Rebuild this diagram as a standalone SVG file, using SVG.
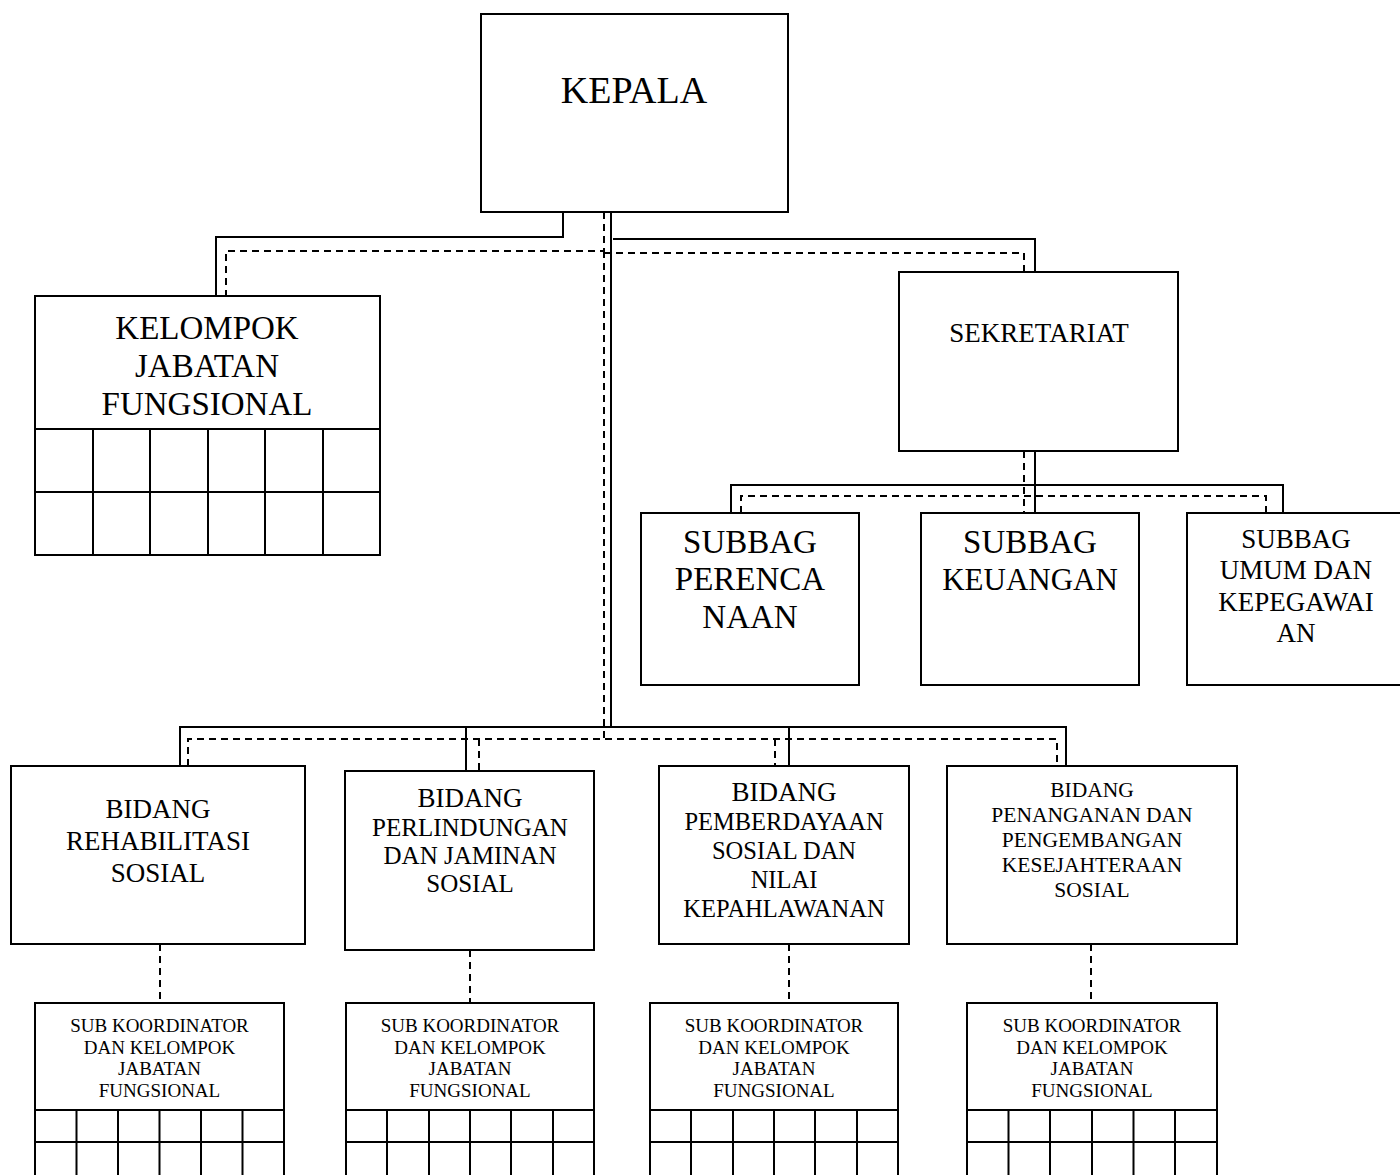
<svg xmlns="http://www.w3.org/2000/svg" width="1400" height="1175" viewBox="0 0 1400 1175">
<style>
.box{fill:#fff;stroke:#000;stroke-width:2}
.ln{fill:none;stroke:#000;stroke-width:2}
.ds{fill:none;stroke:#000;stroke-width:2;stroke-dasharray:7 5}
text{font-family:"Liberation Serif","DejaVu Serif",serif;fill:#000;text-anchor:middle}
</style>
<rect width="1400" height="1175" fill="#fff"/>
<g id="connectors">
<path class="ln" d="M563 212V237H216V296"/>
<path class="ds" d="M604 212V251H226V296"/>
<path class="ln" d="M611 212V727"/>
<path class="ln" d="M613 239H1035V272"/>
<path class="ds" d="M604 253H1024V272"/>
<path class="ds" d="M604 251V739"/>
<path class="ln" d="M1035 451V513"/>
<path class="ds" d="M1024 451V513"/>
<path class="ln" d="M731 513V485H1283V513"/>
<path class="ds" d="M741 513V496H1266V513"/>
<path class="ln" d="M180 766V727H1066V766"/>
<path class="ln" d="M466 727V771"/>
<path class="ln" d="M789 727V766"/>
<path class="ds" d="M188 766V739H1057V766"/>
<path class="ds" d="M479 739V771"/>
<path class="ds" d="M775 739V766"/>
<path class="ds" d="M160 944V1003"/>
<path class="ds" d="M470 950V1003"/>
<path class="ds" d="M789 944V1003"/>
<path class="ds" d="M1091 944V1003"/>
</g>
<g id="kepala"><rect class="box" x="481" y="14" width="307" height="198"/><text x="634" y="103" font-size="38">KEPALA</text></g>
<g id="kjf"><rect class="box" x="35" y="296" width="345" height="259"/>
<path class="ln" d="M35 429H380M35 492H380M93 429V555M150 429V555M208 429V555M265 429V555M323 429V555"/>
<text font-size="33"><tspan x="207" y="339">KELOMPOK</tspan><tspan x="207" y="377">JABATAN</tspan><tspan x="207" y="415">FUNGSIONAL</tspan></text></g>
<g id="sekretariat"><rect class="box" x="899" y="272" width="279" height="179"/><text x="1039" y="342" font-size="27">SEKRETARIAT</text></g>
<g id="subbag-perencanaan"><rect class="box" x="641" y="513" width="218" height="172"/><text font-size="33"><tspan x="750" y="553">SUBBAG</tspan><tspan x="750" y="590">PERENCA</tspan><tspan x="750" y="628">NAAN</tspan></text></g>
<g id="subbag-keuangan"><rect class="box" x="921" y="513" width="218" height="172"/><text font-size="31"><tspan x="1030" y="553" font-size="33">SUBBAG</tspan><tspan x="1030" y="590">KEUANGAN</tspan></text></g>
<g id="subbag-umum"><rect class="box" x="1187" y="513" width="214" height="172"/><text font-size="27"><tspan x="1296" y="548">SUBBAG</tspan><tspan x="1296" y="579">UMUM DAN</tspan><tspan x="1296" y="611">KEPEGAWAI</tspan><tspan x="1296" y="642">AN</tspan></text></g>
<g id="bidang-rehab"><rect class="box" x="11" y="766" width="294" height="178"/><text font-size="27"><tspan x="158" y="818">BIDANG</tspan><tspan x="158" y="850">REHABILITASI</tspan><tspan x="158" y="882">SOSIAL</tspan></text></g>
<g id="bidang-perlindungan"><rect class="box" x="345" y="771" width="249" height="179"/><text font-size="25"><tspan x="470" y="807" font-size="27">BIDANG</tspan><tspan x="470" y="836">PERLINDUNGAN</tspan><tspan x="470" y="864">DAN JAMINAN</tspan><tspan x="470" y="892">SOSIAL</tspan></text></g>
<g id="bidang-pemberdayaan"><rect class="box" x="659" y="766" width="250" height="178"/><text font-size="24.5"><tspan x="784" y="801" font-size="27">BIDANG</tspan><tspan x="784" y="830">PEMBERDAYAAN</tspan><tspan x="784" y="859">SOSIAL DAN</tspan><tspan x="784" y="888">NILAI</tspan><tspan x="784" y="917">KEPAHLAWANAN</tspan></text></g>
<g id="bidang-penanganan"><rect class="box" x="947" y="766" width="290" height="178"/><text font-size="21.5"><tspan x="1092" y="797">BIDANG</tspan><tspan x="1092" y="822">PENANGANAN DAN</tspan><tspan x="1092" y="847">PENGEMBANGAN</tspan><tspan x="1092" y="872">KESEJAHTERAAN</tspan><tspan x="1092" y="897">SOSIAL</tspan></text></g>
<g id="subkoor-1"><rect class="box" x="35" y="1003" width="249" height="180"/>
<path class="ln" d="M35 1110H284M35 1142H284M76.5 1110V1175M118 1110V1175M159.5 1110V1175M201 1110V1175M242.5 1110V1175"/>
<text font-size="19"><tspan x="159.5" y="1032">SUB KOORDINATOR</tspan><tspan x="159.5" y="1054">DAN KELOMPOK</tspan><tspan x="159.5" y="1075">JABATAN</tspan><tspan x="159.5" y="1097">FUNGSIONAL</tspan></text></g>
<g id="subkoor-2"><rect class="box" x="346" y="1003" width="248" height="180"/>
<path class="ln" d="M346 1110H594M346 1142H594M387 1110V1175M429 1110V1175M470 1110V1175M511 1110V1175M553 1110V1175"/>
<text font-size="19"><tspan x="470" y="1032">SUB KOORDINATOR</tspan><tspan x="470" y="1054">DAN KELOMPOK</tspan><tspan x="470" y="1075">JABATAN</tspan><tspan x="470" y="1097">FUNGSIONAL</tspan></text></g>
<g id="subkoor-3"><rect class="box" x="650" y="1003" width="248" height="180"/>
<path class="ln" d="M650 1110H898M650 1142H898M691 1110V1175M733 1110V1175M774 1110V1175M815 1110V1175M857 1110V1175"/>
<text font-size="19"><tspan x="774" y="1032">SUB KOORDINATOR</tspan><tspan x="774" y="1054">DAN KELOMPOK</tspan><tspan x="774" y="1075">JABATAN</tspan><tspan x="774" y="1097">FUNGSIONAL</tspan></text></g>
<g id="subkoor-4"><rect class="box" x="967" y="1003" width="250" height="180"/>
<path class="ln" d="M967 1110H1217M967 1142H1217M1008.5 1110V1175M1050 1110V1175M1092 1110V1175M1133.5 1110V1175M1175 1110V1175"/>
<text font-size="19"><tspan x="1092" y="1032">SUB KOORDINATOR</tspan><tspan x="1092" y="1054">DAN KELOMPOK</tspan><tspan x="1092" y="1075">JABATAN</tspan><tspan x="1092" y="1097">FUNGSIONAL</tspan></text></g>
</svg>
